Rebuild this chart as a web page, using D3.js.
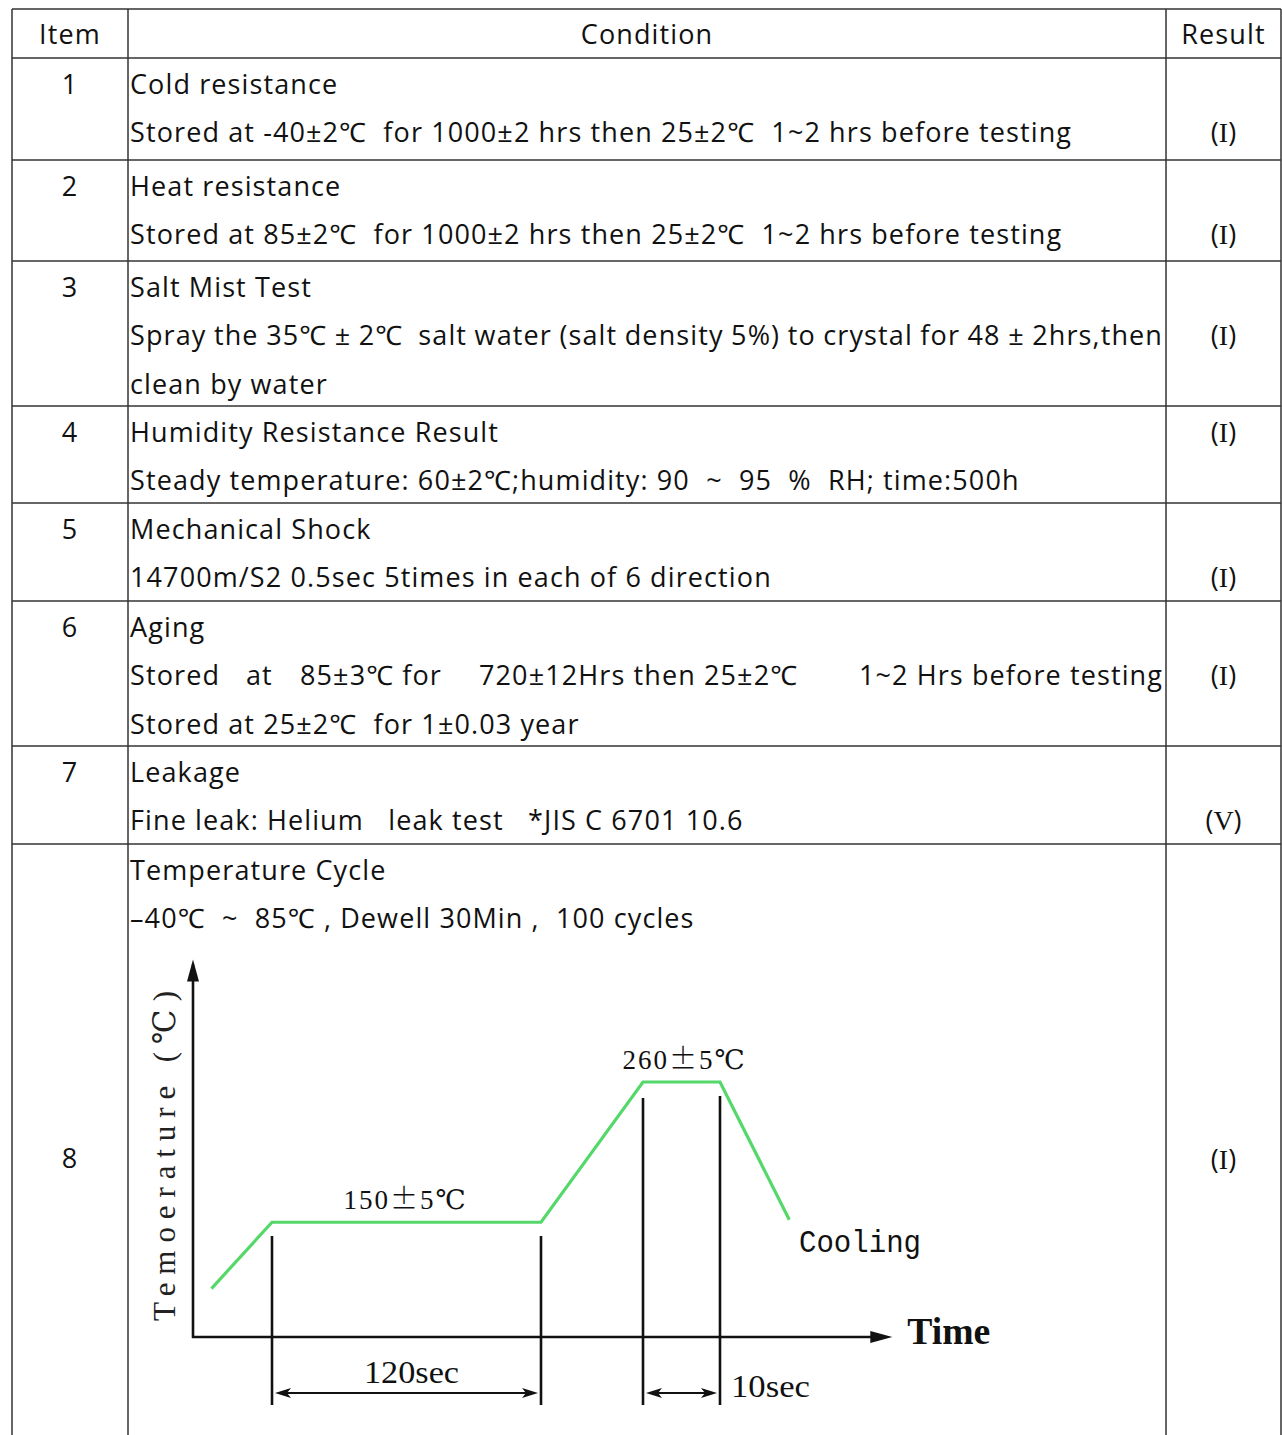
<!DOCTYPE html>
<html>
<head>
<meta charset="utf-8">
<script src="https://cdn.jsdelivr.net/npm/d3@7"></script>
<style>
  html, body { margin: 0; padding: 0; background: #fff; }
  svg text { white-space: pre; }
</style>
</head>
<body>
<svg id="chart" width="1282" height="1435"></svg>
<script>
// ---------------- DATA ----------------
const headers = ["Item", "Condition", "Result"];
const itemNumbers = ["1", "2", "3", "4", "5", "6", "7", "8"];
const conditionLines = [
  ["Cold resistance", "Stored at -40±2℃  for 1000±2 hrs then 25±2℃  1~2 hrs before testing"],
  ["Heat resistance", "Stored at 85±2℃  for 1000±2 hrs then 25±2℃  1~2 hrs before testing"],
  ["Salt Mist Test", "Spray the 35℃ ± 2℃  salt water (salt density 5%) to crystal for 48 ± 2hrs,then", "clean by water"],
  ["Humidity Resistance Result", "Steady temperature: 60±2℃;humidity: 90  ~  95  %  RH; time:500h"],
  ["Mechanical Shock", "14700m/S2 0.5sec 5times in each of 6 direction"],
  ["Aging", "Stored  at  85±3℃ for  720±12Hrs then 25±2℃  1~2 Hrs before testing", "Stored at 25±2℃  for 1±0.03 year"],
  ["Leakage", "Fine leak: Helium   leak test   *JIS C 6701 10.6"],
  ["Temperature Cycle", "–40℃  ~  85℃ , Dewell 30Min ,  100 cycles"]
];
const justifiedLine = [2, 1];                 // [row, line] stretched by word spacing
const segmentedLine = [5, 1];                 // [row, line] split on double spaces
const resultCodes = ["I", "I", "I", "I", "I", "I", "V", "I"];
const resultLineIndex = [1, 1, 1, 0, 1, 1, 1, null];

// reflow profile (diagram of temperature vs time)
const profileTimes = [-27, 0, 120, 165, 175, 184];   // sec
const profileTemps = [98, 150, 150, 260, 260, 152];  // ℃
const markerTimes = [0, 120, 165, 175];
const plateauLabels = [
  { text: ["150", "±", "5℃"], t: 60, temp: 150 },
  { text: ["260", "±", "5℃"], t: 170, temp: 260 }
];
const spanLabels = [
  { text: "120sec", from: 0, to: 120 },
  { text: "10sec", from: 165, to: 175 }
];
const yAxisLabel = "Temoerature (℃)";
const xAxisLabel = "Time";
const coolingLabel = "Cooling";

// ---------------- LAYOUT ----------------
const svg = d3.select("#chart");
const lineColor = "#333";
const tableFont = "'Open Sans', 'Noto Sans', 'Noto Sans CJK KR', sans-serif";
const fs = 27;
const colX = [12, 128, 1166, 1281];
const rowHeights = [49, 102, 101, 145, 97, 98, 145, 98, 700];
const tableTop = 9;
const lineStep = 48.3;
const firstLineOffset = 26;
const refLineWidth = 941;         // width of row-1 detail line in the reference
const segmentStarts = [130, 246, 300, 479, 857];

const rowY = [tableTop];
rowHeights.forEach(h => rowY.push(rowY[rowY.length - 1] + h));

// calibrate letter spacing so the table text matches the reference widths
const probe = svg.append("text").attr("font-family", tableFont).attr("font-size", fs)
  .text(conditionLines[0][1]);
const probeLen = probe.node().getComputedTextLength();
const ls = (refLineWidth - probeLen) / (conditionLines[0][1].length - 1);
probe.remove();

// grid
const g = svg.append("g");
g.selectAll("line.h").data(rowY.slice(0, 9)).join("line")
  .attr("x1", colX[0]).attr("x2", colX[3])
  .attr("y1", d => d).attr("y2", d => d)
  .attr("stroke", lineColor).attr("stroke-width", 1.5);
g.selectAll("line.v").data(colX).join("line")
  .attr("x1", d => d).attr("x2", d => d)
  .attr("y1", tableTop).attr("y2", 1435)
  .attr("stroke", lineColor).attr("stroke-width", 1.5);

function addText(parent, x, cy, txt, anchor) {
  return parent.append("text")
    .attr("x", x).attr("y", cy + 10)
    .attr("font-family", tableFont).attr("font-size", fs)
    .attr("letter-spacing", ls)
    .attr("fill", "#111").attr("text-anchor", anchor || "start")
    .text(txt);
}

// header
const hx = [(colX[0] + colX[1]) / 2, (colX[1] + colX[2]) / 2, (colX[2] + colX[3]) / 2];
headers.forEach((h, i) => addText(g, hx[i], tableTop + 25, h, "middle"));

// rows
const cellLeft = colX[1] + 2, cellRight = colX[2] - 3;
itemNumbers.forEach((num, r) => {
  const y0 = rowY[r + 1];
  const isLast = r === itemNumbers.length - 1;
  const itemY = isLast ? 1158 : y0 + firstLineOffset;
  addText(g, hx[0], itemY, num, "middle");
  conditionLines[r].forEach((ln, li) => {
    const cy = y0 + firstLineOffset + li * lineStep;
    if (r === segmentedLine[0] && li === segmentedLine[1]) {
      const segs = ln.split(/ {2,}/);
      segs.forEach((s, si) => {
        if (si === segs.length - 1) addText(g, cellRight, cy, s, "end");
        else addText(g, segmentStarts[si], cy, s);
      });
      return;
    }
    const t = addText(g, cellLeft, cy, ln);
    if (r === justifiedLine[0] && li === justifiedLine[1]) {
      const natural = t.node().getComputedTextLength();
      const spaces = (ln.match(/ /g) || []).length;
      const ws = (cellRight - cellLeft - natural) / spaces;
      t.attr("word-spacing", ws);
    }
  });
  const ry = resultLineIndex[r] === null ? 1159 : y0 + firstLineOffset + resultLineIndex[r] * lineStep;
  const rt = addText(g, hx[2], ry, "(", "middle").attr("letter-spacing", 0);
  rt.append("tspan").attr("font-family", "'Liberation Serif', serif").attr("font-size", 28).text(resultCodes[r]);
  rt.append("tspan").text(")");
});

// ---------------- DIAGRAM ----------------
const dg = svg.append("g");
const origin = { x: 193, y: 1337 };
const x = d3.scaleLinear().domain([0, 120, 165, 175]).range([272, 541, 643, 720]);
const y = d3.scaleLinear().domain([60, 260]).range([origin.y, 1082]);
const black = "#111";
const serif = "'Liberation Serif', 'DejaVu Serif', serif";

// axes
dg.append("line").attr("x1", origin.x).attr("x2", origin.x)
  .attr("y1", origin.y + 1).attr("y2", y(352))
  .attr("stroke", black).attr("stroke-width", 2.6);
dg.append("path")
  .attr("d", `M${origin.x},${y(356)} l-6,22 l12,0 z`).attr("fill", black);
const xEnd = x(184) + 103;
dg.append("line").attr("x1", origin.x - 1).attr("x2", xEnd - 10)
  .attr("y1", origin.y).attr("y2", origin.y)
  .attr("stroke", black).attr("stroke-width", 2.6);
dg.append("path")
  .attr("d", `M${xEnd},${origin.y} l-22,-6 l0,12 z`).attr("fill", black);

// marker verticals
const markerTop = [1236, 1236, 1098, 1096];
dg.selectAll("line.m").data(markerTimes).join("line")
  .attr("x1", d => x(d)).attr("x2", d => x(d))
  .attr("y1", (d, i) => markerTop[i]).attr("y2", 1405)
  .attr("stroke", black).attr("stroke-width", 2.6);

// profile
const pts = profileTimes.map((t, i) => [x(t), y(profileTemps[i])]);
dg.append("path")
  .attr("d", d3.line()(pts))
  .attr("fill", "none").attr("stroke", "#55d86a").attr("stroke-width", 3.2)
  .attr("stroke-linejoin", "miter");

// plateau labels
plateauLabels.forEach((p, i) => {
  const t = dg.append("text")
    .attr("x", i === 0 ? x(p.t) - 1 : x(p.t) + 3).attr("y", y(p.temp) - 13)
    .attr("text-anchor", "middle")
    .attr("font-family", serif).attr("font-size", 27)
    .attr("letter-spacing", 2)
    .attr("fill", black);
  t.append("tspan").text(p.text[0]);
  t.append("tspan").attr("font-family", "'Noto Sans CJK SC'").attr("font-weight", 300).attr("font-size", 28).text(p.text[1]);
  t.append("tspan").text(p.text[2]);
});

// span arrows
const arrowY = 1393;
spanLabels.forEach((s, i) => {
  const a = x(s.from) + 3, b = x(s.to) - 3;
  dg.append("line").attr("x1", a + 8).attr("x2", b - 8)
    .attr("y1", arrowY).attr("y2", arrowY)
    .attr("stroke", black).attr("stroke-width", 2.2);
  dg.append("path").attr("d", `M${a},${arrowY} l16,-5 l-4,5 l4,5 z`).attr("fill", black);
  dg.append("path").attr("d", `M${b},${arrowY} l-16,-5 l4,5 l-4,5 z`).attr("fill", black);
  if (i === 0) {
    dg.append("text").attr("x", (x(s.from) + x(s.to)) / 2 + 5).attr("y", 1383)
      .attr("text-anchor", "middle").attr("font-family", serif).attr("font-size", 32)
      .attr("textLength", 95).attr("lengthAdjust", "spacingAndGlyphs")
      .attr("fill", black).text(s.text);
  } else {
    dg.append("text").attr("x", x(s.to) + 11).attr("y", 1397)
      .attr("font-family", serif).attr("font-size", 32)
      .attr("textLength", 79).attr("lengthAdjust", "spacingAndGlyphs")
      .attr("fill", black).text(s.text);
  }
});

// axis labels
dg.append("text").attr("x", xEnd + 15).attr("y", 1344)
  .attr("font-family", serif).attr("font-size", 38).attr("font-weight", "bold")
  .attr("textLength", 83).attr("lengthAdjust", "spacingAndGlyphs")
  .attr("fill", black).text(xAxisLabel);
dg.append("text").attr("x", 799).attr("y", 1252)
  .attr("font-family", "'Liberation Mono', 'DejaVu Sans Mono', monospace").attr("font-size", 32)
  .attr("textLength", 122).attr("lengthAdjust", "spacingAndGlyphs")
  .attr("fill", black).text(coolingLabel);
dg.append("text")
  .attr("transform", "translate(175,1156) rotate(-90)")
  .attr("text-anchor", "middle")
  .attr("font-family", serif).attr("font-size", 31)
  .attr("textLength", 330).attr("lengthAdjust", "spacing")
  .attr("fill", "#222").text(yAxisLabel);
</script>
</body>
</html>
